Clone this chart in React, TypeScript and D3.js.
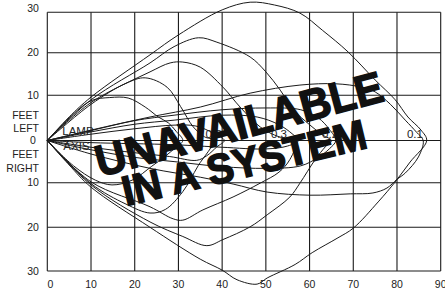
import React from 'react';
import * as d3 from 'd3';

// axis ticks (feet)
const xTicks = [0, 10, 20, 30, 40, 50, 60, 70, 80, 90];
const yTicks = [30, 20, 10, 0, -10, -20, -30];

// contour edges as [distance along lamp axis, feet left (+) / right (-)]
const wide01Upper = [[0, 0], [5, 5.2], [10, 9.6], [23.5, 19.5], [30, 24.4], [40, 30.6], [46.4, 32.5], [52, 31.8], [57.8, 29.8], [63, 25.5], [68.8, 20.2], [75, 13.6], [79.6, 9], [82.5, 5.2], [85.5, 2.3], [86.8, 0]];
const wide01Lower = [[0, 0], [5, -5.8], [10, -11], [23.5, -20], [35, -27.3], [40, -29.8], [43.4, -32], [48, -33], [50.3, -31.6], [56.7, -28.5], [60.6, -25.8], [66.5, -22.4], [70, -20.2], [75.7, -14.3], [79.6, -9.8], [83, -5.1], [86.8, 0]];
const narrow01Upper = [[0, 0], [10, 2.3], [23.5, 5.2], [35, 7.4], [46.4, 10.5], [57.8, 12.4], [66, 12.7], [72, 11.9], [75, 10.8], [78.5, 8], [81.9, 4.5], [84.5, 1.8], [86, 0]];
const narrow01Lower = [[0, 0], [10, -3.2], [23.5, -6.6], [35, -8.7], [42.5, -10.3], [50.3, -12.1], [60.1, -12.8], [69.3, -12.5], [74.5, -12.3], [77.7, -11.2], [80, -9.2], [81.9, -7.7], [84.9, -3.9], [86, 0]];

const wide02Upper = [[0, 0], [10, 9], [23.5, 17.6], [29, 21.5], [34.6, 23.7], [38.8, 22.6], [46.4, 19], [50, 15.5], [53.3, 11.2], [56.3, 6.8], [60, 3.5], [63, 1.2], [65, 0]];
const wide02Lower = [[0, 0], [10, -10.5], [23.5, -18.8], [31, -22.1], [36.5, -24.2], [40.2, -22.8], [46.4, -19.9], [50.3, -17.2], [55.5, -13.2], [57.8, -10.1], [61.3, -4.5], [63.6, -1.5], [65, 0]];
const narrow02Upper = [[0, 0], [10, 2.2], [20, 4.4], [29, 5.6], [40, 6.8], [50, 7.2], [58, 6.8], [62, 5], [64.5, 2.5], [66, 0]];
const narrow02Lower = [[0, 0], [10, -2.2], [20, -4], [29, -5], [40, -6.2], [50, -6.6], [58, -6], [62, -4], [64.5, -2], [66, 0]];

const wide03Upper = [[0, 0], [10, 8.4], [23.5, 15.5], [28.1, 17.6], [31, 17.8], [35, 16.6], [40.2, 11.9], [44.1, 7.4], [48.7, 3], [52, 1.2], [55, 0.3], [57, 0]];
const wide03Lower = [[0, 0], [10, -9.8], [23.5, -15.4], [28.8, -18.1], [31, -18.4], [35.6, -16.1], [42.5, -13.2], [48.7, -10.1], [53, -7.5], [55.5, -4.5], [57, 0]];
const narrow03Upper = [[0, 0], [10, 1.9], [20, 3.6], [29, 4.5], [40, 5.6], [48, 5.2], [53, 3.5], [56, 1.5], [57.5, 0]];
const narrow03Lower = [[0, 0], [10, -0.5], [29, -1], [40, -1.6], [50, -2], [55, -1.3], [57.5, 0]];

const wide05Upper = [[0, 0], [10, 8], [18, 12.8], [22.4, 14.1], [27.4, 11.9], [30.5, 7.5], [33.4, 3], [36, 0.8], [38, 0]];
const wide05Lower = [[0, 0], [10, -10.2], [18, -14.8], [23.5, -16.8], [27, -16], [31, -12], [34.5, -6], [38, 0]];
const narrow05Upper = [[0, 0], [10, 1.4], [20, 2.6], [29, 3.4], [34, 3.2], [38, 1.6], [40.5, 0]];
const narrow05Lower = [[0, 0], [10, -1.6], [20, -2.9], [28, -3.8], [34.2, -4.7], [36.5, -3.6], [38.8, -1.5], [40.5, 0]];

const wide1Upper = [[0, 0], [5, 5], [10, 8.8], [14.3, 9.5], [18.5, 9.4], [22.4, 7.4], [25.4, 5.2], [27.7, 3.9], [29.5, 2], [31, 0]];
const wide1Lower = [[0, 0], [6, -6], [11, -9.4], [14.8, -10.5], [19.4, -9.4], [23.9, -6.1], [26.9, -3.8], [29.2, -1.8], [31, 0]];

const contours = [
  [wide01Upper, wide01Lower], [narrow01Upper, narrow01Lower],
  [wide02Upper, wide02Lower], [narrow02Upper, narrow02Lower],
  [wide03Upper, wide03Lower], [narrow03Upper, narrow03Lower],
  [wide05Upper, wide05Lower], [narrow05Upper, narrow05Lower],
  [wide1Upper, wide1Lower],
];

// footcandle values written next to where each contour meets the axis
const contourLabels = ['0.1', '0.2', '0.3', '0.5', '1'];
const contourLabelX = [84.1, 64.7, 53, 38, 28.5];

const W = 445;
const H = 294;
const font = "'Liberation Sans', Arial, Helvetica, sans-serif";

const App = () => {
  const x = d3.scaleLinear().domain([0, 90]).range([47.3, 440.7]);
  // the scanned grid is slightly uneven, so the y scale is piecewise
  const y = d3.scaleLinear().domain(yTicks).range([12.3, 52.7, 95.3, 140.5, 182.7, 227.3, 271]);

  const line = d3.line()
    .x(d => x(d[0]))
    .y(d => y(d[1]))
    .curve(d3.curveCatmullRom.alpha(0.5));

  const outline = (upper, lower) => {
    const back = lower.slice(0, -1).reverse();
    return line(upper.concat(back));
  };

  return (
    <svg width={W} height={H} style={{ position: 'absolute', left: 0, top: 0, background: '#fff' }} overflow="visible">
      {/* grid */}
      <g stroke="#1a1a1a" strokeWidth={1.1}>
        {xTicks.map(t => (
          <line key={'gx' + t} x1={x(t)} x2={x(t)} y1={y(30)} y2={y(-30)} />
        ))}
        {yTicks.map(t => (
          <line key={'gy' + t} x1={x(0)} x2={x(90)} y1={y(t)} y2={y(t)} />
        ))}
      </g>

      {/* contours */}
      <g fill="none" stroke="#1a1a1a" strokeWidth={1}>
        {contours.map((c, i) => (
          <path key={i} d={outline(c[0], c[1])} />
        ))}
      </g>

      {/* tick labels */}
      <g fontFamily={font} fontSize={10.5} fill="#222">
        {yTicks.map((t, i) => (
          <text key={'ty' + t} x={33} y={y(t) - (i === 0 ? 4 : 0)} dy="0.36em" textAnchor="middle">{Math.abs(t)}</text>
        ))}
        {xTicks.map(t => (
          <text key={'tx' + t} x={x(t) + (t === 0 ? 3 : 0)} y={288} textAnchor="middle">{t}</text>
        ))}
        <text x={39} y={118.5} textAnchor="end">FEET</text>
        <text x={39} y={132} textAnchor="end">LEFT</text>
        <text x={39} y={158} textAnchor="end">FEET</text>
        <text x={39} y={172} textAnchor="end">RIGHT</text>
      </g>

      <g fontFamily={font} fontSize={11.5} fill="#222">
        <text x={x(0) + 15} y={y(0) - 5.5}>LAMP</text>
        <text x={x(0) + 16} y={y(0) + 9.5}>AXIS</text>
        {contourLabels.map((l, i) => (
          <text key={l} x={x(contourLabelX[i])} y={y(0) - 2.5} textAnchor="middle">{l}</text>
        ))}
      </g>

      {/* watermark */}
      <g fontFamily={font} fontWeight="bold" fill="#111" stroke="#111" strokeWidth={1.6}>
        <text transform="translate(100,177) rotate(-15)" fontSize={44} textLength={296} lengthAdjust="spacingAndGlyphs">UNAVAILABLE</text>
        <text transform="translate(126,206) rotate(-13.5)" fontSize={42} textLength={250} lengthAdjust="spacingAndGlyphs">IN A SYSTEM</text>
      </g>
    </svg>
  );
};

export default App;
